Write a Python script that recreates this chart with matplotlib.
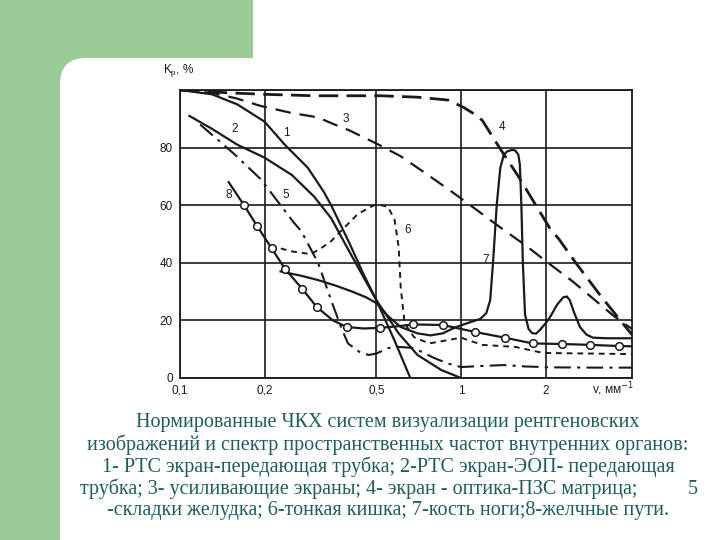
import matplotlib
matplotlib.use("Agg")
import matplotlib.pyplot as plt
from matplotlib.patches import Rectangle, FancyBboxPatch
from matplotlib.transforms import IdentityTransform

# spatial frequency, mm^-1  /  normalised contrast Kp, %
x1 = [0.1, 0.13, 0.16, 0.2, 0.236, 0.285, 0.325, 0.345, 0.4, 0.45, 0.5, 0.58, 0.66]
k1 = [100, 98.5, 95, 89, 81, 73, 64.6, 60, 47, 36, 27, 13, 0]

x2 = [0.108, 0.13, 0.16, 0.2, 0.25, 0.3, 0.345, 0.4, 0.45, 0.5, 0.6, 0.7, 0.85, 1.0]
k2 = [91, 86.5, 81, 76.5, 70.5, 63, 55.5, 44, 35, 27, 15.5, 8, 2.8, 0]

x3 = [0.1, 0.13, 0.16, 0.193, 0.25, 0.31, 0.345, 0.4, 0.51, 0.61, 0.75, 0.93,
      1.15, 1.37, 1.7, 2.04, 2.5, 3.0, 3.5, 4.06]
k3 = [100, 99, 97, 94.5, 92, 90.5, 88.5, 86, 81, 77, 71, 64.6,
      58, 52.5, 46, 40, 33.5, 27, 21.5, 17]

x4 = [0.1, 0.15, 0.2, 0.3, 0.52, 0.7, 0.9, 1.02, 1.1, 1.19, 1.37, 1.6, 1.9,
      2.07, 2.24, 2.56, 3.17, 4.06]
k4 = [100, 99, 98.5, 98, 98, 97.5, 96.5, 94, 92, 89.5, 80, 70, 58,
      52, 48, 40, 28, 15]

x5 = [0.118, 0.155, 0.194, 0.254, 0.27, 0.31, 0.345, 0.374, 0.396, 0.44, 0.47,
      0.5, 0.55, 0.6, 0.68, 0.8, 0.9, 1.0, 1.2, 1.43, 1.7, 2.1, 3.0, 4.06]
k5 = [88, 78, 69, 54, 51, 40, 27, 17.7, 12, 8.7, 8,
      8.5, 10.4, 10.8, 10.4, 7, 5, 3.8, 4.2, 4.5, 4, 3.7, 3.6, 3.6]

x6 = [0.21, 0.248, 0.27, 0.292, 0.317, 0.345, 0.365, 0.43, 0.49, 0.52, 0.55,
      0.58, 0.6, 0.61, 0.63, 0.68, 0.77, 0.88, 1.0, 1.19, 1.56, 1.96, 4.06]
k6 = [46, 44, 43.5, 43, 45, 47.5, 50, 57, 60, 60, 59.4,
      55, 45.5, 31.6, 19, 14.2, 12, 13, 14, 11.5, 10.8, 8.7, 8.3]

x7 = [0.228, 0.27, 0.31, 0.36, 0.41, 0.46, 0.5, 0.55, 0.61, 0.7, 0.78, 0.86,
      0.95, 1.05, 1.17, 1.23, 1.27, 1.3, 1.34, 1.38, 1.42, 1.46, 1.52, 1.56,
      1.6, 1.62, 1.64, 1.66, 1.69, 1.74, 1.79, 1.85, 1.91, 2.0, 2.07, 2.2,
      2.31, 2.38, 2.44, 2.52, 2.65, 2.8, 2.95, 3.3, 4.06]
k7 = [37, 35.5, 34, 32, 30, 28, 26, 21.5, 17.7, 15.5, 14.8, 15.5,
      17.5, 19, 20.5, 22.5, 27, 40, 60, 73, 77.5, 78.7, 79.2, 79,
      77.5, 74, 60, 40, 22, 17, 15.6, 15.4, 16.7, 19, 21, 25.5,
      28, 28.3, 27, 23, 17.7, 15, 14, 13.8, 13.8]

x8 = [0.149, 0.169, 0.188, 0.212, 0.236, 0.272, 0.307, 0.35, 0.392, 0.45,
      0.515, 0.6, 0.675, 0.863, 1.12, 1.43, 1.8, 2.29, 2.88, 3.65, 4.06]
k8 = [68, 60, 52.8, 45, 38, 31, 24.6, 20, 17.7, 17.2,
      17.4, 18, 18.6, 18.4, 16, 14, 12, 11.8, 11.5, 11.1, 11]
x8_marks = [0.169, 0.188, 0.212, 0.236, 0.272, 0.307, 0.392, 0.515, 0.675,
            0.863, 1.12, 1.43, 1.8, 2.29, 2.88, 3.65]
k8_marks = [60, 52.8, 45, 38, 31, 24.6, 17.7, 17.4, 18.6,
            18.4, 16, 14, 12, 11.8, 11.5, 11.1]

curve_names = ["1", "2", "3", "4", "5", "6", "7", "8"]
label_x = [0.24, 0.156, 0.39, 1.40, 0.238, 0.646, 1.22, 0.149]
label_k = [85, 86.6, 90, 87, 63.6, 51.5, 41, 63.6]

xticks = [0.1, 0.2, 0.5, 1, 2]
xtick_labels = ["0,1", "0,2", "0,5", "1", "2"]
yticks = [0, 20, 40, 60, 80]

caption = [
    "Нормированные ЧКХ систем визуализации рентгеновских",
    "изображений и спектр пространственных частот внутренних органов:",
    "1- РТС экран-передающая трубка; 2-РТС экран-ЭОП- передающая",
    "трубка; 3- усиливающие экраны; 4- экран - оптика-ПЗС матрица;",
    "-складки желудка; 6-тонкая кишка; 7-кость ноги;8-желчные пути.",
]

fig = plt.figure(figsize=(7.2, 5.4), dpi=100)
fig.patch.set_facecolor("white")

# slide background: green band + white panel with a rounded corner
green = "#9bcb96"
H = 540
fig.add_artist(Rectangle((0, 0), 60, H, transform=IdentityTransform(),
                         facecolor=green, edgecolor="none", zorder=0))
fig.add_artist(Rectangle((0, H - 58), 253, 58, transform=IdentityTransform(),
                         facecolor=green, edgecolor="none", zorder=0))
fig.add_artist(Rectangle((0, H - 110), 110, 60, transform=IdentityTransform(),
                         facecolor=green, edgecolor="none", zorder=0))
fig.add_artist(FancyBboxPatch((60, -100), 800, H - 58 + 100,
                              boxstyle="round,pad=0,rounding_size=26",
                              transform=IdentityTransform(),
                              facecolor="white", edgecolor="none", zorder=0.5))

ax = fig.add_axes([180 / 720, (H - 378) / H, 452 / 720, 288 / H])
ax.set_facecolor("none")
ax.set_zorder(2)

ink = "#1a1a1a"
ax.plot(x1, k1, color=ink, lw=1.6)
ax.plot(x2, k2, color=ink, lw=1.6)
ax.plot(x3, k3, color=ink, lw=1.6, dashes=(7, 4))
ax.plot(x4, k4, color=ink, lw=2.0, dashes=(7, 3))
ax.plot(x5, k5, color=ink, lw=1.5, dashes=(8, 3, 1.5, 3))
ax.plot(x6, k6, color=ink, lw=1.4, dashes=(3, 2.5))
ax.plot(x7, k7, color=ink, lw=1.6)
ax.plot(x8, k8, color=ink, lw=1.6)
ax.plot(x8_marks, k8_marks, "o", ms=5.5, mfc="white", mec=ink, mew=1.1)

for name, lx, lk in zip(curve_names, label_x, label_k):
    ax.text(lx, lk, name, fontsize=8.5, family="Liberation Sans",
            ha="center", va="center", color=ink)

ax.set_xscale("log")
ax.set_xlim(0.1, 4.06)
ax.set_ylim(0, 100)
ax.set_xticks(xticks)
ax.set_xticklabels(xtick_labels)
ax.minorticks_off()
ax.set_yticks(yticks)
ax.tick_params(length=0, pad=5, labelsize=8.5, colors=ink)
for lab in ax.get_xticklabels() + ax.get_yticklabels():
    lab.set_family("Liberation Sans")
ax.grid(True, color=ink, lw=1.2)
ax.axhline(100, color=ink, lw=1.3)
for s in ax.spines.values():
    s.set_color(ink)
    s.set_linewidth(1.3)

fig.text(163 / 720, 1 - 71 / H, "$\\mathregular{K_p}$, %", fontsize=8.5,
         family="Liberation Sans", ha="left", va="center", color=ink)
fig.text(634 / 720, 1 - 389 / H, "v, мм$^{-1}$", fontsize=8.5,
         family="Liberation Sans", ha="right", va="center", color=ink)

teal = "#1c5e5c"
cap_y = [423, 445, 467, 489, 511]
for i, (line, yy) in enumerate(zip(caption, cap_y)):
    if i == 3:
        # this line is padded out to a lone "5" at the right edge
        fig.text(80 / 720, 1 - yy / H, line, fontsize=14.5,
                 family="Liberation Serif", ha="left", va="center", color=teal)
    else:
        fig.text(388 / 720, 1 - yy / H, line, fontsize=14.5,
                 family="Liberation Serif", ha="center", va="center", color=teal)
fig.text(698 / 720, 1 - 489 / H, "5", fontsize=14.5, family="Liberation Serif",
         ha="right", va="center", color=teal)

fig.savefig("out.png", dpi=100)
